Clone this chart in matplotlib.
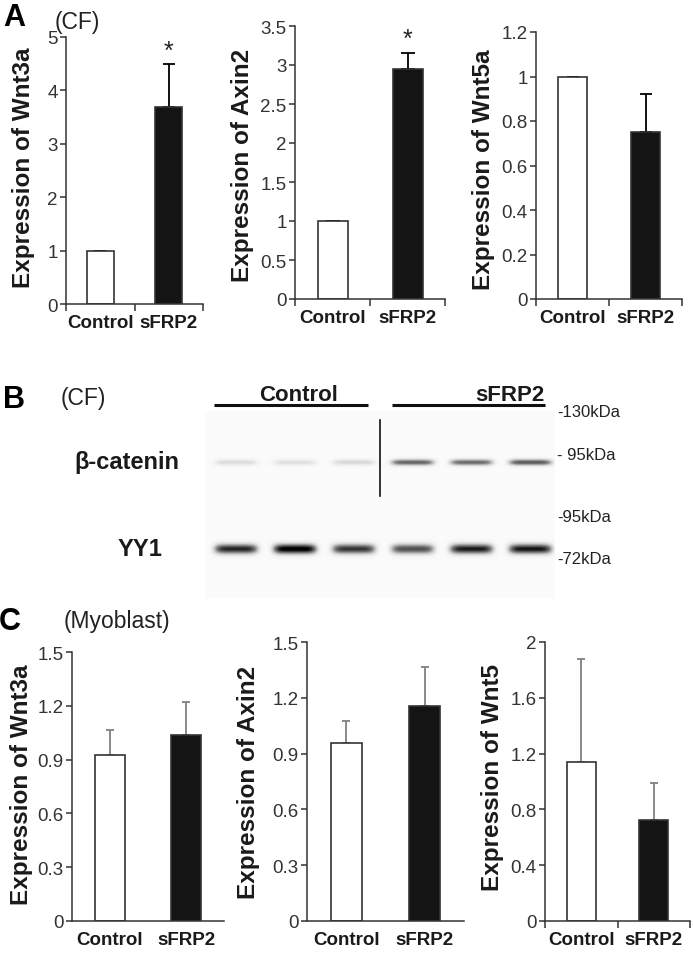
import numpy as np
import matplotlib
matplotlib.use('Agg')
import matplotlib.pyplot as plt
from matplotlib import font_manager
from matplotlib.ticker import MultipleLocator, FuncFormatter, FixedLocator

plt.rcParams['font.family'] = ['Liberation Sans', 'DejaVu Sans']
plt.rcParams['axes.linewidth'] = 1.1
plt.rcParams['axes.edgecolor'] = '#333333'
plt.rcParams['xtick.color'] = '#333333'
plt.rcParams['ytick.color'] = '#333333'

groups = ['Control', 'sFRP2']

# A: cardiac fibroblasts (CF), relative expression
cf_wnt3a = [1.0, 3.68]
cf_wnt3a_err = [0, 0.81]
cf_axin2 = [1.0, 2.95]
cf_axin2_err = [0, 0.21]
cf_wnt5a = [1.0, 0.75]
cf_wnt5a_err = [0, 0.17]

# C: myoblasts
mb_wnt3a = [0.925, 1.035]
mb_wnt3a_err = [0.14, 0.185]
mb_axin2 = [0.957, 1.156]
mb_axin2_err = [0.116, 0.21]
mb_wnt5 = [1.138, 0.726]
mb_wnt5_err = [0.737, 0.263]

# B: western blot, band darkness per lane (0 = none, 1 = black)
lanes = ['Control', 'Control', 'Control', 'sFRP2', 'sFRP2', 'sFRP2']
bcat_band = [0.2, 0.18, 0.22, 0.64, 0.62, 0.68]
yy1_band = [0.85, 1.0, 0.8, 0.72, 0.88, 0.9]
kda_labels = ['-130kDa', '- 95kDa', '-95kDa', '-72kDa']

names = set(f.name for f in font_manager.fontManager.ttflist)
if 'Liberation Sans Narrow' in names:
    ylab_font, ylab_size = 'Liberation Sans Narrow', 21
else:
    ylab_font, ylab_size = 'Liberation Sans', 17.5

W, H = 693, 962
fig = plt.figure(figsize=(W / 100, H / 100), dpi=100)


def px_rect(l, r, t, b):
    return [l / W, 1 - b / H, (r - l) / W, (b - t) / H]


def fmt(v, pos):
    return '%g' % round(v, 2)


def bar_panel(rect, vals, errs, ymax, step, ylabel, lab_xy, ecolor, capsize,
              cat_ticks=True, stars=False):
    ax = fig.add_axes(px_rect(*rect))
    x = np.arange(len(groups)) + 0.5
    ax.bar(x, vals, width=0.4, color=['white', '#141414'],
           edgecolor='#333333', linewidth=1.2, zorder=2)
    ax.errorbar(x, vals, yerr=[np.zeros(len(vals)), errs], fmt='none',
                ecolor=ecolor, elinewidth=1.3, capsize=capsize, capthick=1.3,
                zorder=1)
    if stars:
        for xi, v, e in zip(x, vals, errs):
            if e > 0:
                ax.annotate('*', (xi, v + e), xytext=(0, 1),
                            textcoords='offset points', ha='center',
                            va='bottom', fontsize=18, color='#222222')
    ax.set_xlim(0, 2)
    ax.set_ylim(0, ymax)
    ax.spines['top'].set_visible(False)
    ax.spines['right'].set_visible(False)
    ax.yaxis.set_major_locator(MultipleLocator(step))
    ax.yaxis.set_major_formatter(FuncFormatter(fmt))
    ax.tick_params(axis='y', length=4, width=1.1, pad=2, labelsize=13.5,
                   labelcolor='#333333')
    ax.set_xticks(x)
    ax.set_xticklabels(groups, fontweight='bold', fontsize=13.5,
                       color='#1a1a1a')
    ax.tick_params(axis='x', which='major', length=0, pad=7)
    if cat_ticks:
        ax.xaxis.set_minor_locator(FixedLocator([0, 1, 2]))
        ax.tick_params(axis='x', which='minor', length=5, width=1.1)
    fig.text(lab_xy[0] / W, 1 - lab_xy[1] / H, ylabel, rotation=90,
             ha='center', va='center', fontsize=ylab_size,
             fontweight='bold', family=ylab_font, color='#1a1a1a')
    return ax


# panel A
bar_panel((66, 203, 38, 305), cf_wnt3a, cf_wnt3a_err, 5, 1,
          'Expression of Wnt3a', (24, 168), 'black', 4, stars=True)
bar_panel((295, 445, 27, 300), cf_axin2, cf_axin2_err, 3.5, 0.5,
          'Expression of Axin2', (242, 165), 'black', 5, stars=True)
bar_panel((536, 682, 33, 300), cf_wnt5a, cf_wnt5a_err, 1.2, 0.2,
          'Expression of Wnt5a', (483, 170), 'black', 4)

# panel C
bar_panel((72, 224, 653, 922), mb_wnt3a, mb_wnt3a_err, 1.5, 0.3,
          'Expression of Wnt3a', (22, 785), '#808080', 3, cat_ticks=False)
bar_panel((307, 464, 643, 922), mb_axin2, mb_axin2_err, 1.5, 0.3,
          'Expression of Axin2', (249, 782), '#808080', 3, cat_ticks=False)
bar_panel((545, 690, 643, 922), mb_wnt5, mb_wnt5_err, 2, 0.4,
          'Expression of Wnt5', (493, 778), '#808080', 3)

# panel B: blot
axb = fig.add_axes(px_rect(205, 555, 412, 600))
lane_x = np.arange(len(lanes))
x0, x1 = -0.52, 5.41
xs = np.linspace(x0, x1, 350)
ys = np.linspace(0, 1, 188)
img = np.full((len(ys), len(xs)), 0.035)
for i in range(len(lanes)):
    across = np.exp(-((xs - lane_x[i]) / 0.37) ** 6)
    img += bcat_band[i] * np.outer(np.exp(-((ys - 0.272) / 0.017) ** 2), across)
    img += yy1_band[i] * np.outer(np.exp(-((ys - 0.735) / 0.027) ** 2), across)
axb.imshow(np.clip(img, 0, 1), cmap='Greys', vmin=0, vmax=1,
           extent=(x0, x1, 1, 0), aspect='auto', interpolation='bilinear')
axb.set_xlim(x0, x1)
axb.set_ylim(1, 0)
axb.axis('off')

# divider between control and sFRP2 lanes
axb.plot([2.45, 2.45], [0.05, 0.45], color='#111111', lw=1.2)

for g in groups:
    idx = [i for i, l in enumerate(lanes) if l == g]
    axb.plot([idx[0] - 0.36, idx[-1] + 0.24], [-0.03, -0.03], color='#111111',
             lw=2.2, clip_on=False, solid_capstyle='butt')
    if g == 'Control':
        axb.text(np.mean(idx) + 0.07, -0.09, g, ha='center', va='center',
                 fontsize=16, fontweight='bold', color='#1a1a1a')
    else:
        axb.text(idx[-1] + 0.24, -0.09, g, ha='right', va='center',
                 fontsize=16, fontweight='bold', color='#1a1a1a')

for lab, yy in zip(kda_labels, [0.005, 0.234, 0.559, 0.787]):
    axb.text(5.44, yy, lab, ha='left', va='center', fontsize=12,
             color='#222222', clip_on=False)

fig.text(127 / W, 1 - 463 / H, '\u03b2-catenin', ha='center', va='center',
         fontsize=17, fontweight='bold', color='#1a1a1a')
fig.text(140 / W, 1 - 549 / H, 'YY1', ha='center', va='center',
         fontsize=17, fontweight='bold', color='#1a1a1a')

# panel letters and cell types
fig.text(14 / W, 1 - 18 / H, 'A', ha='center', va='center', fontsize=22,
         fontweight='bold')
fig.text(77 / W, 1 - 22 / H, '(CF)', ha='center', va='center', fontsize=16.5,
         color='#222222')
fig.text(14 / W, 1 - 400 / H, 'B', ha='center', va='center', fontsize=22,
         fontweight='bold')
fig.text(83 / W, 1 - 398 / H, '(CF)', ha='center', va='center', fontsize=16.5,
         color='#222222')
fig.text(10 / W, 1 - 622 / H, 'C', ha='center', va='center', fontsize=22,
         fontweight='bold')
fig.text(117 / W, 1 - 622 / H, '(Myoblast)', ha='center', va='center',
         fontsize=16.5, color='#222222')

plt.savefig('out.png', dpi=100)
